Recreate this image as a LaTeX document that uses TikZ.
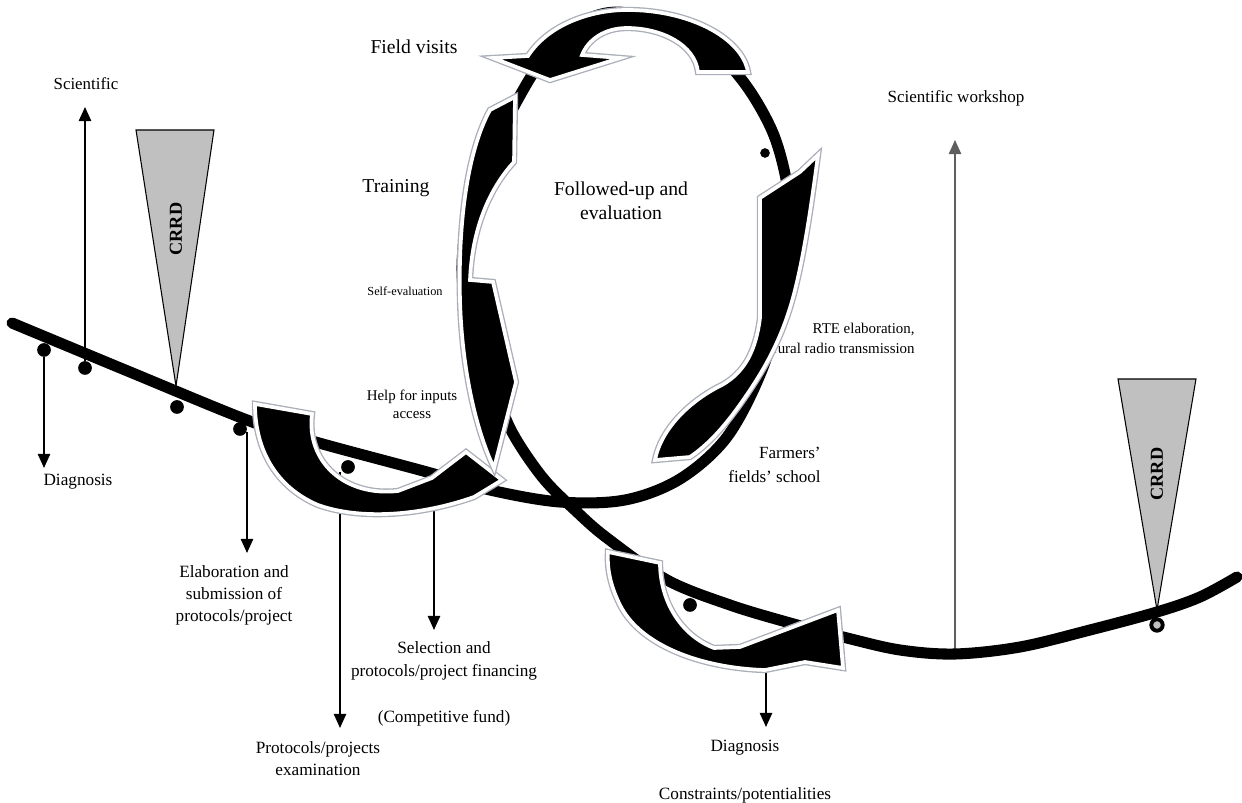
\documentclass[tikz,border=0pt]{standalone}
\usepackage{fontspec}
\setmainfont{Liberation Serif}
\usetikzlibrary{arrows.meta,positioning,calc}
\definecolor{crrdgray}{RGB}{192,192,192}
\definecolor{rimgray}{RGB}{170,174,184}
\definecolor{stemgray}{RGB}{95,95,95}
\tikzset{
  >={Triangle[length=8pt,width=7pt]},
  trackline/.style={draw=black, line width=6.3pt, line cap=round, line join=round},
  stem/.style={-{Triangle[length=8pt,width=7pt]}, line width=0.9pt, draw=black},
  greystem/.style={stem, draw=stemgray},
  bead/.style={circle, fill=black, inner sep=0pt, minimum size=7.8pt},
  beadring/.style={circle, draw=black, line width=2.2pt, fill=crrdgray, inner sep=0pt, minimum size=6.5pt},
  wedge/.style={fill=crrdgray, draw=black, line width=0.6pt},
  crrdtext/.style={font=\bfseries\fontsize{10.4}{12}\selectfont, inner sep=0pt, rotate=90},
  blockarrow/.style={fill=black, draw=white, line width=2.1pt, line join=miter,
    preaction={draw=rimgray, line width=3.6pt, line join=miter}},
  lbl/.style={font=\fontsize{9.8}{12.5}\selectfont, align=center, inner sep=0pt},
  biglbl/.style={lbl, font=\fontsize{11.2}{13.6}\selectfont}
}

\begin{document}
\begin{tikzpicture}[x=0.02cm, y=-0.02cm]
  \useasboundingbox (0,0) rectangle (1242,803);

  % labels
  \node[biglbl] (fieldvis) at (414,47) {Field visits};
  \node[lbl, font=\fontsize{9.6}{12}\selectfont] (sci) at (86,84) {Scientific};
  \node[biglbl] (training) at (396,188) {Training};
  \node[lbl, font=\fontsize{7}{8}\selectfont] (selfeval) at (405,291) {Self-evaluation};
  \node[lbl, font=\fontsize{8.5}{10.2}\selectfont] (inputs) at (412,404) {Help for inputs\\access};
  \node[biglbl] (followup) at (621,201) {Followed-up and\\evaluation};
  \node[lbl, font=\fontsize{8.5}{11.3}\selectfont, align=right, anchor=east] (rte) at (915,338) {RTE elaboration,\\rural radio transmission};
  \node[lbl, font=\fontsize{9.7}{13.6}\selectfont, align=right, anchor=east] (ffs) at (821,465) {Farmers’\\fields’ school};
  \node[lbl, font=\fontsize{9.7}{12}\selectfont] (sciwork) at (956,98) {Scientific workshop};
  \node[lbl] (diagA) at (78,482) {Diagnosis};
  \node[lbl] (elab) at (234,595) {Elaboration and\\submission of\\protocols/project};
  \node[lbl] (protex) at (318,759) {Protocols/projects\\examination};
  \node[lbl, font=\fontsize{9.8}{13}\selectfont] (select) at (444,661) {Selection and\\protocols/project financing};
  \node[lbl] (compfund) at (444,718) {(Competitive fund)};
  \node[lbl] (diagB) at (745,748) {Diagnosis};
  \node[lbl] (constr) at (745,795) {Constraints/potentialities};

  % beads hanging under the track
  \node[bead] (beadA) at (44,350) {};
  \node[bead] (beadB) at (85,368) {};
  \node[bead] (beadC) at (177,407) {};
  \node[bead] (beadD) at (240,429) {};
  \node[bead] (beadE) at (348,467) {};
  \node[bead] (beadF) at (690,605) {};
  \node[bead, minimum size=5.5pt] (beadG) at (765,153) {};
  \node[beadring] (beadH) at (1157,625) {};

  % stems
  \coordinate (tipSci) at (85,107);
  \coordinate (tipDiagA) at (44,468);
  \coordinate (footElab) at (247,432);
  \coordinate (tipElab) at (247,553);
  \coordinate (footProt) at (340,472);
  \coordinate (tipProt) at (340,728);
  \coordinate (footSel) at (434,500);
  \coordinate (tipSel) at (434,630);
  \coordinate (footDiagB) at (766,665);
  \coordinate (tipDiagB) at (766,727);
  \coordinate (footWork) at (955,650);
  \coordinate (tipWork) at (955,140);
  \draw[stem] (beadB) -- (tipSci);
  \draw[stem] (beadA) -- (tipDiagA);
  \draw[stem] (footElab) -- (tipElab);
  \draw[stem] (footProt) -- (tipProt);
  \draw[stem] (footSel) -- (tipSel);
  \draw[stem] (footDiagB) -- (tipDiagB);
  \draw[greystem] (footWork) -- (tipWork);

  % the track with its loop
  \draw[trackline] plot[smooth, tension=0.55] coordinates {
    (12,323) (130,372) (247,420) (312,441) (427,472) (490,490) (560,502)
    (625,500) (680,479) (727,437) (762,370) (782,300) (790,240) (788,190)
    (773,133) (742,80) (700,40) (627,13) (585,20) (553,45) (532,75)
    (512,110) (488,155) (470,205) (462,268) (470,330) (493,385) (512,432)
    (543,478) (577,512) (607,538) (667,580) (730,605) (790,623) (847,638)
    (900,650) (955,654) (1020,647) (1090,630) (1157,612) (1200,597) (1237,577)};

  % CRRD wedges
  \draw[wedge] (136,130) -- (214,130) -- (176,386) -- cycle;
  \node[crrdtext] (crrdL) at (176,229) {CRRD};
  \draw[wedge] (1118,379) -- (1196,379) -- (1157,610) -- cycle;
  \node[crrdtext] (crrdR) at (1157,474) {CRRD};

  % curved block arrows
  \path[blockarrow] (255,404) -- (312,414) .. controls (306,462) and (345,497) .. (398,491)
    -- (432,478) -- (466,452) -- (502,480) -- (474,497)
    .. controls (420,516) and (360,520) .. (318,505) .. controls (278,488) and (255,452) .. cycle;
  \path[blockarrow] (608,552) -- (660,563) .. controls (660,600) and (680,635) .. (714,648)
    -- (740,647) -- (838,610) -- (843,668) -- (805,662) -- (765,670)
    .. controls (700,668) and (640,645) .. (620,605) .. controls (610,585) and (607,568) .. cycle;
  \path[blockarrow] (748,72) -- (698,72) .. controls (695,45) and (662,28) .. (627,28)
    .. controls (604,28) and (588,40) .. (582,55) -- (620,58) -- (550,80) -- (493,58) -- (528,56)
    .. controls (548,25) and (590,10) .. (627,10) .. controls (690,10) and (742,38) .. cycle;
  \path[blockarrow] (515,97) -- (514,162) .. controls (490,188) and (472,228) .. (470,280)
    -- (493,282) -- (516,382) -- (494,468)
    .. controls (476,430) and (462,370) .. (460,300) .. controls (458,220) and (468,150) .. (490,110) -- cycle;
  \path[blockarrow] (818,155) .. controls (812,200) and (805,250) .. (795,290)
    .. controls (785,330) and (770,360) .. (750,390) .. controls (730,420) and (712,442) .. (690,457)
    -- (655,460) .. controls (662,425) and (695,398) .. (722,385)
    .. controls (745,372) and (756,350) .. (760,318) -- (760,198) -- (800,172) -- cycle;
\end{tikzpicture}
\end{document}
